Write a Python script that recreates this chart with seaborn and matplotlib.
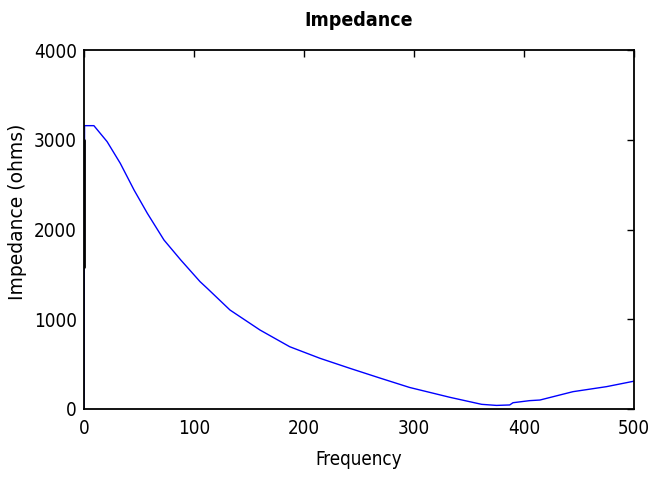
import numpy as np
import pandas as pd
import seaborn as sns
import matplotlib.pyplot as plt

# Frequency / impedance
freq = [0, 0.5, 3, 9, 21, 33, 45.5, 57.6, 72.7, 88, 105.5, 112, 132.7, 160, 187,
        214.5, 241.8, 269, 296, 332.7, 361.5, 375, 387, 390, 405, 414.5,
        444.5, 475, 500]
impedance = [0, 3157, 3157, 3157, 2979, 2737, 2440, 2180, 1883, 1660, 1419, 1345,
             1103, 880, 694, 565, 453, 345, 240, 130, 52, 40, 45, 70, 93, 100,
             193, 249, 310]

# short black segment sitting on the left axis at f = 0
dc_freq = [0, 0]
dc_imp = [1580, 3000]

df = pd.DataFrame({'Frequency': freq, 'Impedance': impedance})

sns.set_style('white')
plt.rcParams['font.family'] = ['DejaVu Sans']
plt.rcParams['font.stretch'] = 'condensed'
plt.rcParams['text.color'] = 'black'
plt.rcParams['axes.labelcolor'] = 'black'
plt.rcParams['xtick.color'] = 'black'
plt.rcParams['ytick.color'] = 'black'

fig = plt.figure(figsize=(6.49, 4.80), dpi=100)
ax = fig.add_axes([84 / 649, 1 - 409 / 480, 550 / 649, 359 / 480])

sns.lineplot(data=df, x='Frequency', y='Impedance', color='#0000ff',
             linewidth=1.0, ax=ax)
ax.plot(dc_freq, dc_imp, color='black', linewidth=2.0)

ax.set_xlim(0, 500)
ax.set_ylim(0, 4000)
ax.set_xticks([0, 100, 200, 300, 400, 500])
ax.set_yticks([0, 1000, 2000, 3000, 4000])
ax.tick_params(direction='in', length=5, width=1, top=True, right=True,
               labelsize=13.5)
ax.tick_params(axis='x', pad=7)
ax.tick_params(axis='y', pad=5)
for s in ax.spines.values():
    s.set_visible(True)
    s.set_color('black')
    s.set_linewidth(1.3)

ax.set_title('Impedance', fontsize=14, fontweight='bold', pad=17)
ax.set_xlabel('Frequency', fontsize=13.5, labelpad=9)
ax.set_ylabel('Impedance (ohms)', fontsize=13.5, fontstretch='normal')
ax.yaxis.set_label_coords(-0.103, 0.549)

plt.savefig('out.png', dpi=100)
